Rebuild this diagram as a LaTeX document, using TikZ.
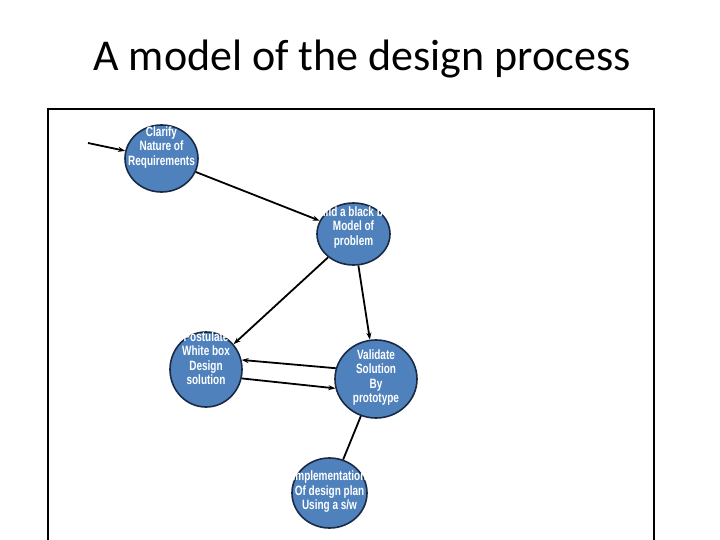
\documentclass[tikz,border=0pt]{standalone}
\usepackage{fontspec}
\setmainfont{Carlito}
\newfontfamily\narfont[FakeStretch=0.74]{Liberation Sans}
\usetikzlibrary{shapes.geometric,arrows.meta}
\definecolor{bubfill}{HTML}{4F81BD}
\definecolor{bubedge}{HTML}{1A2A44}
\tikzset{
  bub/.style={ellipse, draw=bubedge, line width=1.6pt, fill=bubfill, inner sep=0pt},
  bubtxt/.style={align=center, text=white, inner sep=0pt, font=\narfont\bfseries\fontsize{13.5}{14.5}\selectfont},
  conn/.style={line width=1.8pt, draw=black, -{Stealth[length=7pt,width=5pt]}},
  plainconn/.style={line width=1.8pt, draw=black},
}
\newcommand{\mybubble}[7]{%
  \node[bub, minimum width={2*#4pt}, minimum height={2*#5pt}] (#1) at (#2,#3) {};
  \begin{scope}
    \clip ({#2-#4},{#3-#5}) rectangle ({#2+#4},{#3+#5});
    \node[bubtxt] (#1-t) at (#2,#6) {#7};
  \end{scope}
}
\begin{document}
\begin{tikzpicture}[x=1pt,y=-1pt]
\useasboundingbox (0,0) rectangle (720,540);
\clip (0,0) rectangle (720,540);
\fill[white] (0,0) rectangle (720,540);

\node[anchor=base, font=\fontsize{44}{50}\selectfont] (title) at (362,71) {A model of the design process};

\draw[line width=2.6pt] (48,109) rectangle (654,600);

\mybubble{clarify}{161.5}{158.5}{36.5}{33.5}{147.5}{Clarify\\Nature of\\Requirements}
\mybubble{build}{353.5}{234}{36.5}{31}{227.5}{Build a black box\\Model of\\problem}
\mybubble{post}{206}{369.5}{36}{37.5}{358}{Postulate\\White box\\Design\\solution}
\mybubble{valid}{376}{379}{41}{39}{377.5}{Validate\\Solution\\By\\prototype}
\mybubble{impl}{329.5}{493}{37.5}{35}{492}{Implementation\\Of design plan\\Using a s/w}

\coordinate (entry) at (88,143);
\draw[conn] (entry) -- (clarify);
\draw[conn] (clarify) -- (build);
\draw[conn] (build) -- (post);
\draw[conn] (build) -- (valid);
\draw[conn] (valid.165) -- (post.15);
\draw[conn] (post.-14) -- (valid.-167);
\draw[plainconn] (valid) -- (impl);
\end{tikzpicture}
\end{document}
